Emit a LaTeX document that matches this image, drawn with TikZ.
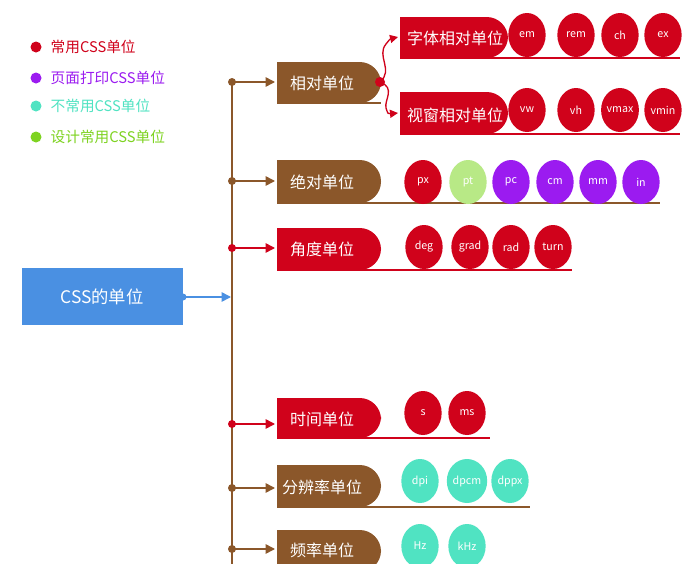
\documentclass[tikz,border=0pt]{standalone}
\usepackage{fontspec}
\setmainfont{Noto Sans CJK SC}
\usetikzlibrary{arrows.meta,shapes.geometric}
\definecolor{cred}{HTML}{D0021B}
\definecolor{cpur}{HTML}{9B1BF0}
\definecolor{cteal}{HTML}{50E3C2}
\definecolor{cgreen}{HTML}{7ED321}
\definecolor{clgreen}{HTML}{B8E986}
\definecolor{cbrown}{HTML}{8B572A}
\definecolor{cblue}{HTML}{4A90E2}
\tikzset{
  unit/.style={ellipse,inner sep=0pt,fill=#1,text=white,font=\fontsize{8}{10}\selectfont,minimum width=28pt,minimum height=33pt},
  cattext/.style={text=white,font=\fontsize{12}{14}\selectfont},
  conn/.style={line width=1.2pt,-{Triangle[length=7pt,width=7pt]},draw=#1},
  legtext/.style={anchor=west,font=\fontsize{11}{13}\selectfont,text=#1},
}
\newcommand{\catbox}[6]{%
  \fill[#5] (#1,#4) -- (#1,#2) {[rounded corners=16pt] -- (#3,#2) -- (#3,#4)} -- cycle;
  \draw[#5,line width=1.3pt] (#1,#4) -- (#6,#4);
}
\begin{document}
\begin{tikzpicture}[x=0.75pt,y=-0.75pt]
\useasboundingbox (0,0) rectangle (687,564);
\fill[white] (0,0) rectangle (687,564);
% legend
\foreach \y/\c/\t [count=\i] in {47/cred/常用CSS单位,78/cpur/页面打印CSS单位,106/cteal/不常用CSS单位,137/cgreen/设计常用CSS单位}{
  \fill[\c] (36,\y) circle (5.5);
  \node[legtext=\c] (leg\i) at (46,\y) {\t};
}
% main box
\fill[cblue] (22,268) rectangle (183,325);
\node[text=white,font=\fontsize{13}{15}\selectfont] (main) at (102,297) {CSS的单位};
\fill[cblue] (183,297) circle (3.5);
\coordinate (mr) at (183,297);
\coordinate (spine) at (231,297);
\draw[cblue,line width=1.2pt,-{Triangle[length=7pt,width=7pt]}] (mr) -- (spine);
% spine
\draw[cbrown,line width=1.2pt] (232,82) -- (232,564);
% category boxes
\catbox{277}{62}{381}{103}{cbrown}{381}
\catbox{277}{160}{381}{203}{cbrown}{660}
\catbox{277}{228}{381}{270}{cred}{572}
\catbox{277}{398}{381}{438}{cred}{490}
\catbox{277}{465}{381}{507}{cbrown}{530}
\catbox{277}{530}{381}{572}{cbrown}{381}
\catbox{400}{17}{508}{58}{cred}{680}
\catbox{400}{92}{508}{134}{cred}{680}
\node[cattext] (rel) at (322,83) {相对单位};
\node[cattext] (abs) at (322,182) {绝对单位};
\node[cattext] (ang) at (322,249) {角度单位};
\node[cattext] (time) at (322,419) {时间单位};
\node[cattext] (res) at (322,487) {分辨率单位};
\node[cattext] (freq) at (322,550) {频率单位};
\node[cattext] (font) at (455,38) {字体相对单位};
\node[cattext] (view) at (455,115) {视窗相对单位};
% spine dots and connectors
\foreach \y/\c/\n in {82/cbrown/rel,181/cbrown/abs,248/cred/ang,424/cred/time,488/cbrown/res,549/cbrown/freq}{
  \fill[\c] (232,\y) circle (4);
  \coordinate (d\n) at (232,\y);
  \coordinate (t\n) at (275,\y);
  \draw[conn=\c] (d\n) -- (t\n);
}
% wavy connectors
\coordinate (rd) at (380,82);
\coordinate (tf) at (398,37);
\coordinate (tv) at (398,113);
\fill[cred] (rd) circle (5);
\draw[cred,line width=1pt,-{Triangle[length=6pt,width=6pt]}] (rd) .. controls (394,70) and (376,56) .. (386,44) .. controls (390,39) .. (tf);
\draw[cred,line width=1pt,-{Triangle[length=6pt,width=6pt]}] (rd) .. controls (396,88) and (384,100) .. (386,108) .. controls (388,114) .. (tv);
% units
\foreach \x/\t/\c [count=\i] in {527/em/cred,576/rem/cred,620/ch/cred,663/ex/cred}{\node[unit=\c] (a\i) at (\x,35) {\t};}
\foreach \x/\t/\c [count=\i] in {527/vw/cred,576/vh/cred,620/vmax/cred,663/vmin/cred}{\node[unit=\c] (b\i) at (\x,110) {\t};}
\foreach \x/\t/\c [count=\i] in {423/px/cred,468/pt/clgreen,511/pc/cpur,555/cm/cpur,598/mm/cpur,641/in/cpur}{\node[unit=\c] (c\i) at (\x,182) {\t};}
\foreach \x/\t/\c [count=\i] in {424/deg/cred,470/grad/cred,511/rad/cred,553/turn/cred}{\node[unit=\c] (e\i) at (\x,247) {\t};}
\foreach \x/\t/\c [count=\i] in {423/s/cred,467/ms/cred}{\node[unit=\c] (f\i) at (\x,413) {\t};}
\foreach \x/\t/\c [count=\i] in {420/dpi/cteal,467/dpcm/cteal,510/dppx/cteal}{\node[unit=\c] (g\i) at (\x,481) {\t};}
\foreach \x/\t/\c [count=\i] in {420/Hz/cteal,467/kHz/cteal}{\node[unit=\c] (h\i) at (\x,546) {\t};}
\end{tikzpicture}
\end{document}
